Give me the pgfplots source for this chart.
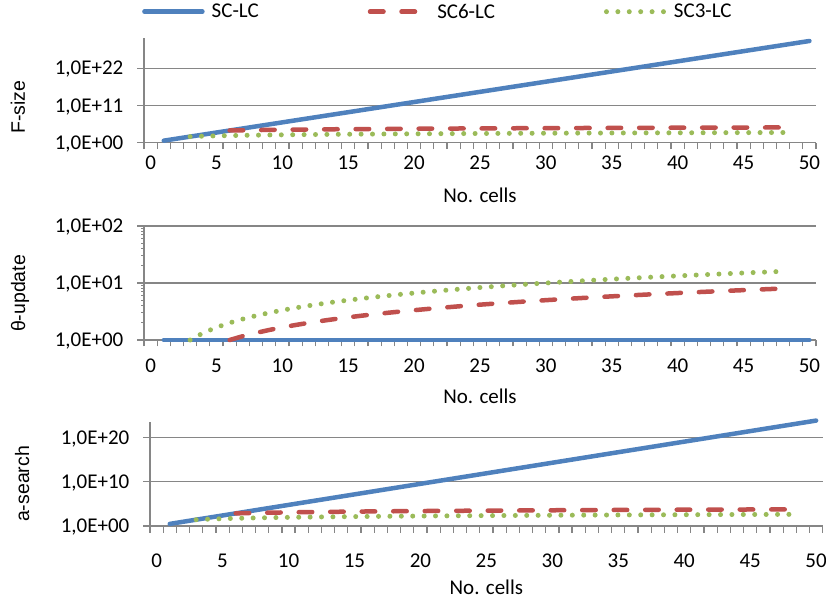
\documentclass[border=0pt]{standalone}
\usepackage{fontspec}
\setmainfont{Carlito}
\newfontfamily\arialf{Liberation Sans}
\usepackage{pgfplots}
\pgfplotsset{compat=1.18}
\definecolor{scblue}{RGB}{79,129,189}
\definecolor{scred}{RGB}{192,80,77}
\definecolor{scgreen}{RGB}{155,187,89}
\definecolor{axgray}{RGB}{134,134,134}

\tikzset{
  scline/.style={scblue, line width=4.5pt, line cap=round, line join=round},
  scsixline/.style={scred, line width=4.5pt, line cap=round, line join=round, dash pattern=on 13.5pt off 18pt},
  scthreeline/.style={scgreen, line width=5pt, line cap=round, line join=round, dash pattern=on 0pt off 11.4pt},
}

\pgfplotsset{
  every axis/.append style={
    scale only axis, width=672pt,
    xmin=-0.5, xmax=50.5,
    axis x line*=bottom, axis y line*=left,
    axis line style={axgray, line width=1.2pt},
    xtick={-0.5,0.5,...,50.5}, xticklabels={},
    extra x ticks={0,5,...,50},
    extra x tick labels={0,5,10,15,20,25,30,35,40,45,50},
    extra x tick style={major tick length=0pt},
    major tick length=6.5pt,
    tick align=outside,
    tick style={axgray, line width=1.2pt},
    ymajorgrids, grid style={axgray, line width=1.2pt},
    tick label style={font=\fontsize{21}{25}\selectfont, inner sep=0pt},
    yticklabel style={anchor=base east, xshift=-14pt, yshift=-6.6pt},
    xlabel={No. cells},
    xlabel style={font=\fontsize{21}{25}\selectfont, at={(axis description cs:0.5,0)}, anchor=center},
    ylabel style={font=\arialf\fontsize{19.5}{23}\selectfont, anchor=center},
    clip=false,
  },
}

\begin{document}
\begin{tikzpicture}
\useasboundingbox (0pt,0pt) rectangle (826pt,-604pt);

% F-size
\begin{semilogyaxis}[at={(144pt,-142.7pt)}, anchor=south west, height=104.4pt,
  ymin=1, ymax=7.94e30, ytick={1,1e11,1e22},
  yticklabels={{1,0E+00},{1,0E+11},{1,0E+22}},
  extra x tick style={xticklabel style={anchor=center, yshift=-20pt}},
  xlabel style={yshift=-53pt},
  ylabel={F-size}, ylabel style={at={(axis description cs:-0.1875,0.34)}},
  legend columns=3,
  legend style={at={(axis description cs:-0.003,1.255)}, anchor=west, draw=none, fill=none,
    inner sep=0pt, font=\fontsize{21}{25}\selectfont,
    /tikz/every odd column/.append style={column sep=5pt},
    /tikz/every even column/.append style={column sep=107pt}},
  legend image code/.code={\draw[#1] (0pt,0pt) -- (58pt,0pt);},
]
\addplot[scline] coordinates {
(1,4)(2,16)(3,64)(4,256)(5,1024)(6,4096)(7,16384)(8,65536)(9,262144)(10,1048576)
(11,4.19e6)(12,1.68e7)(13,6.71e7)(14,2.68e8)(15,1.07e9)(16,4.29e9)(17,1.72e10)(18,6.87e10)(19,2.75e11)(20,1.10e12)
(21,4.40e12)(22,1.76e13)(23,7.04e13)(24,2.81e14)(25,1.13e15)(26,4.50e15)(27,1.80e16)(28,7.21e16)(29,2.88e17)(30,1.15e18)
(31,4.61e18)(32,1.84e19)(33,7.38e19)(34,2.95e20)(35,1.18e21)(36,4.72e21)(37,1.89e22)(38,7.56e22)(39,3.02e23)(40,1.21e24)
(41,4.84e24)(42,1.93e25)(43,7.74e25)(44,3.09e26)(45,1.24e27)(46,4.95e27)(47,1.98e28)(48,7.92e28)(49,3.17e29)(50,1.27e30)
};
\addlegendentry{SC-LC}
\addplot[scsixline] coordinates {
(6,4096)(7,4779)(8,5461)(9,6144)(10,6827)(11,7509)(12,8192)(13,8875)(14,9557)(15,10240)
(16,10923)(17,11605)(18,12288)(19,12971)(20,13653)(21,14336)(22,15019)(23,15701)(24,16384)(25,17067)
(26,17749)(27,18432)(28,19115)(29,19797)(30,20480)(31,21163)(32,21845)(33,22528)(34,23211)(35,23893)
(36,24576)(37,25259)(38,25941)(39,26624)(40,27307)(41,27989)(42,28672)(43,29355)(44,30037)(45,30720)
(46,31403)(47,32085)(48,32768)
};
\addlegendentry{SC6-LC}
\addplot[scthreeline] coordinates {
(3,64)(4,85.3)(5,106.7)(6,128)(7,149.3)(8,170.7)(9,192)(10,213.3)(11,234.7)(12,256)
(13,277.3)(14,298.7)(15,320)(16,341.3)(17,362.7)(18,384)(19,405.3)(20,426.7)(21,448)(22,469.3)
(23,490.7)(24,512)(25,533.3)(26,554.7)(27,576)(28,597.3)(29,618.7)(30,640)(31,661.3)(32,682.7)
(33,704)(34,725.3)(35,746.7)(36,768)(37,789.3)(38,810.7)(39,832)(40,853.3)(41,874.7)(42,896)
(43,917.3)(44,938.7)(45,960)(46,981.3)(47,1002.7)(48,1024)
};
\addlegendentry{SC3-LC}
\end{semilogyaxis}

% theta-update
\begin{semilogyaxis}[at={(144pt,-340pt)}, anchor=south west, height=114pt,
  ymin=1, ymax=100, ytick={1,10,100},
  yticklabels={{1,0E+00},{1,0E+01},{1,0E+02}},
  extra x tick style={xticklabel style={anchor=center, yshift=-26pt}},
  xlabel style={yshift=-56pt},
  ylabel={θ-update}, ylabel style={at={(axis description cs:-0.1845,0.408)}},
]
\addplot[scline] coordinates {
(1,1)(2,1)(3,1)(4,1)(5,1)(6,1)(7,1)(8,1)(9,1)(10,1)(11,1)(12,1)(13,1)(14,1)(15,1)(16,1)(17,1)
(18,1)(19,1)(20,1)(21,1)(22,1)(23,1)(24,1)(25,1)(26,1)(27,1)(28,1)(29,1)(30,1)(31,1)(32,1)(33,1)
(34,1)(35,1)(36,1)(37,1)(38,1)(39,1)(40,1)(41,1)(42,1)(43,1)(44,1)(45,1)(46,1)(47,1)(48,1)(49,1)(50,1)
};
\addplot[scsixline] coordinates {
(6,1)(7,1.167)(8,1.333)(9,1.5)(10,1.667)(11,1.833)(12,2)(13,2.167)(14,2.333)(15,2.5)
(16,2.667)(17,2.833)(18,3)(19,3.167)(20,3.333)(21,3.5)(22,3.667)(23,3.833)(24,4)(25,4.167)
(26,4.333)(27,4.5)(28,4.667)(29,4.833)(30,5)(31,5.167)(32,5.333)(33,5.5)(34,5.667)(35,5.833)
(36,6)(37,6.167)(38,6.333)(39,6.5)(40,6.667)(41,6.833)(42,7)(43,7.167)(44,7.333)(45,7.5)
(46,7.667)(47,7.833)(48,8)
};
\addplot[scthreeline] coordinates {
(3,1)(4,1.333)(5,1.667)(6,2)(7,2.333)(8,2.667)(9,3)(10,3.333)(11,3.667)(12,4)
(13,4.333)(14,4.667)(15,5)(16,5.333)(17,5.667)(18,6)(19,6.333)(20,6.667)(21,7)(22,7.333)
(23,7.667)(24,8)(25,8.333)(26,8.667)(27,9)(28,9.333)(29,9.667)(30,10)(31,10.333)(32,10.667)
(33,11)(34,11.333)(35,11.667)(36,12)(37,12.333)(38,12.667)(39,13)(40,13.333)(41,13.667)(42,14)
(43,14.333)(44,14.667)(45,15)(46,15.333)(47,15.667)(48,16)
};
\end{semilogyaxis}

% a-search
\begin{semilogyaxis}[at={(150pt,-526pt)}, anchor=south west, height=104.3pt, width=672.7pt,
  ymin=1, ymax=4e23, ytick={1,1e10,1e20},
  yticklabels={{1,0E+00},{1,0E+10},{1,0E+20}},
  extra x tick style={xticklabel style={anchor=center, yshift=-35pt}},
  xlabel style={yshift=-61pt},
  ylabel={a-search}, ylabel style={at={(axis description cs:-0.19,0.403)}},
]
\addplot[scline] coordinates {
(1,3)(2,9)(3,27)(4,81)(5,243)(6,729)(7,2187)(8,6561)(9,19683)(10,59049)
(11,1.77e5)(12,5.31e5)(13,1.59e6)(14,4.78e6)(15,1.43e7)(16,4.30e7)(17,1.29e8)(18,3.87e8)(19,1.16e9)(20,3.49e9)
(21,1.05e10)(22,3.14e10)(23,9.41e10)(24,2.82e11)(25,8.47e11)(26,2.54e12)(27,7.63e12)(28,2.29e13)(29,6.86e13)(30,2.06e14)
(31,6.18e14)(32,1.85e15)(33,5.56e15)(34,1.67e16)(35,5.00e16)(36,1.50e17)(37,4.50e17)(38,1.35e18)(39,4.05e18)(40,1.22e19)
(41,3.65e19)(42,1.09e20)(43,3.28e20)(44,9.85e20)(45,2.95e21)(46,8.86e21)(47,2.66e22)(48,7.98e22)(49,2.39e23)(50,7.18e23)
};
\addplot[scsixline] coordinates {
(6,729)(7,850.5)(8,972)(9,1093.5)(10,1215)(11,1336.5)(12,1458)(13,1579.5)(14,1701)(15,1822.5)
(16,1944)(17,2065.5)(18,2187)(19,2308.5)(20,2430)(21,2551.5)(22,2673)(23,2794.5)(24,2916)(25,3037.5)
(26,3159)(27,3280.5)(28,3402)(29,3523.5)(30,3645)(31,3766.5)(32,3888)(33,4009.5)(34,4131)(35,4252.5)
(36,4374)(37,4495.5)(38,4617)(39,4738.5)(40,4860)(41,4981.5)(42,5103)(43,5224.5)(44,5346)(45,5467.5)
(46,5589)(47,5710.5)(48,5832)
};
\addplot[scthreeline] coordinates {
(3,27)(4,36)(5,45)(6,54)(7,63)(8,72)(9,81)(10,90)(11,99)(12,108)
(13,117)(14,126)(15,135)(16,144)(17,153)(18,162)(19,171)(20,180)(21,189)(22,198)
(23,207)(24,216)(25,225)(26,234)(27,243)(28,252)(29,261)(30,270)(31,279)(32,288)
(33,297)(34,306)(35,315)(36,324)(37,333)(38,342)(39,351)(40,360)(41,369)(42,378)
(43,387)(44,396)(45,405)(46,414)(47,423)(48,432)
};
\end{semilogyaxis}
\end{tikzpicture}
\end{document}
